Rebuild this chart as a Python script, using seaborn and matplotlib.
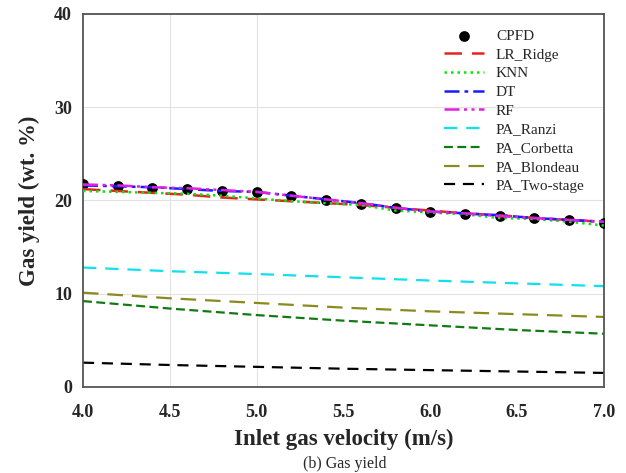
import matplotlib
matplotlib.use("Agg")
import matplotlib.pyplot as plt
import seaborn as sns
import numpy as np
import pandas as pd

velocity = [4.0, 4.2, 4.4, 4.6, 4.8, 5.0, 5.2, 5.4, 5.6, 5.8, 6.0, 6.2, 6.4, 6.6, 6.8, 7.0]
cpfd = [21.7, 21.5, 21.3, 21.2, 21.0, 20.9, 20.5, 20.0, 19.6, 19.2, 18.7, 18.5, 18.3, 18.1, 17.9, 17.6]
lr_ridge = [21.2, 21.0, 20.8, 20.6, 20.3, 20.1, 19.9, 19.7, 19.5, 19.2, 18.9, 18.6, 18.4, 18.1, 17.9, 17.7]
knn = [21.0, 20.9, 20.8, 20.7, 20.5, 20.2, 19.9, 19.7, 19.5, 18.9, 18.7, 18.5, 18.1, 18.0, 17.7, 17.3]
dt = [21.6, 21.5, 21.4, 21.2, 21.0, 20.9, 20.5, 20.1, 19.7, 19.2, 18.8, 18.6, 18.4, 18.1, 17.9, 17.7]
rf = [21.7, 21.6, 21.4, 21.3, 21.1, 20.9, 20.5, 20.1, 19.7, 19.2, 18.8, 18.6, 18.3, 18.1, 17.9, 17.7]

pa_velocity = [4.0, 4.5, 5.0, 5.5, 6.0, 6.5, 7.0]
pa_ranzi = [12.8, 12.4, 12.1, 11.75, 11.4, 11.1, 10.8]
pa_corbetta = [9.2, 8.4, 7.7, 7.1, 6.6, 6.1, 5.7]
pa_blondeau = [10.1, 9.5, 9.0, 8.5, 8.1, 7.8, 7.5]
pa_two_stage = [2.6, 2.35, 2.15, 1.95, 1.8, 1.65, 1.5]

x_ticks = [4.0, 4.5, 5.0, 5.5, 6.0, 6.5, 7.0]
y_ticks = [0, 10, 20, 30, 40]

sns.set_style("white")
plt.rcParams['font.family'] = ['Liberation Serif', 'DejaVu Serif']

fig = plt.figure(figsize=(6.26, 4.73), dpi=100)
ax = fig.add_axes([0.1326, 0.182, 0.832, 0.789])

# light grid
ax.yaxis.grid(True, color='#e2e2e2', lw=0.8)
for gx in [4.5, 5.0]:
    ax.axvline(gx, color='#e2e2e2', lw=0.8, zorder=0)

model_series = [
    ("LR_Ridge", lr_ridge, '#e8231c', (0, (7, 4))),
    ("KNN", knn, '#10e010', (0, (1, 1.6))),
    ("DT", dt, '#1a1aff', (0, (6, 2, 1.5, 2))),
    ("RF", rf, '#e020e0', (0, (6, 1.8, 1.2, 1.8, 1.2, 1.8))),
]
pa_series = [
    ("PA_Ranzi", pa_ranzi, '#10e0ee', (0, (6, 4))),
    ("PA_Corbetta", pa_corbetta, '#137a13', (0, (4, 2))),
    ("PA_Blondeau", pa_blondeau, '#8a8a1e', (0, (7, 4))),
    ("PA_Two-stage", pa_two_stage, '#000000', (0, (5, 3.5))),
]

sns.scatterplot(x=velocity, y=cpfd, ax=ax, color='black', s=60, linewidth=0,
                label="CPFD", zorder=3)
for name, vals, col, ls in model_series:
    sns.lineplot(x=velocity, y=vals, ax=ax, color=col, linestyle=ls, lw=1.8,
                 label=name, zorder=4)
for name, vals, col, ls in pa_series:
    sns.lineplot(x=pa_velocity, y=vals, ax=ax, color=col, linestyle=ls, lw=1.6,
                 label=name, zorder=2)

h, l = ax.get_legend_handles_labels()
order = ["CPFD", "LR_Ridge", "KNN", "DT", "RF", "PA_Ranzi", "PA_Corbetta", "PA_Blondeau", "PA_Two-stage"]
hd = dict(zip(l, h))
leg = ax.legend([hd[k] for k in order], order, loc='upper right', frameon=False,
                fontsize=11, labelspacing=0.33, handlelength=2.6, handletextpad=0.8,
                bbox_to_anchor=(0.975, 0.975), borderaxespad=0.0)

ax.set_xlim(4.0, 7.0)
ax.set_ylim(0, 40)
ax.set_xticks(x_ticks)
ax.set_xticklabels([f"{v:.1f}" for v in x_ticks])
ax.set_yticks(y_ticks)
ax.tick_params(axis='both', direction='inout', length=6, width=1, color='#555555',
               labelsize=13)
ax.tick_params(axis='x', pad=9)
ax.tick_params(axis='y', pad=5)
for t in ax.get_xticklabels() + ax.get_yticklabels():
    t.set_fontweight('bold')
for s in ax.spines.values():
    s.set_visible(True)
    s.set_color('#555555')
    s.set_linewidth(1.3)

ax.set_xlabel("Inlet gas velocity (m/s)", fontsize=16.5, fontweight='bold', labelpad=6)
ax.set_ylabel("Gas yield (wt. %)", fontsize=16.5, fontweight='bold', labelpad=10)

fig.text(0.55, 0.02, "(b) Gas yield", fontsize=11.5, ha='center', va='center')

fig.savefig("out.png", dpi=100)
